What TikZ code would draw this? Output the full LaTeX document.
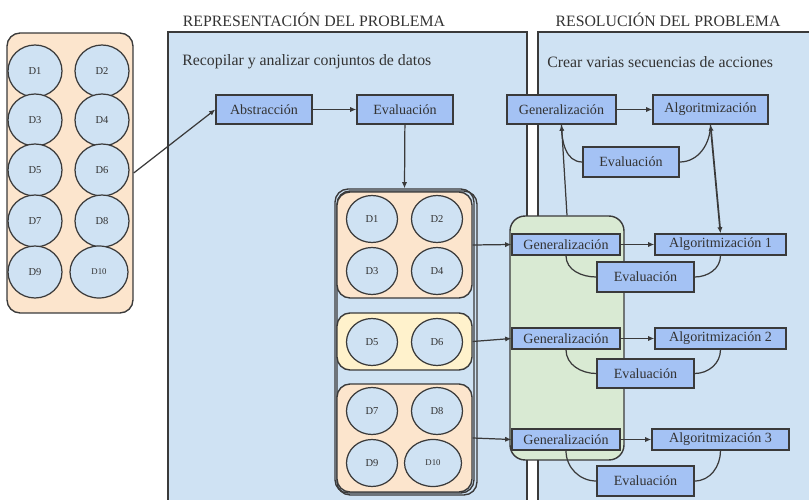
\documentclass[tikz,border=0pt]{standalone}
\usepackage{fontspec}
\setmainfont{Liberation Serif}
\usetikzlibrary{positioning, calc, arrows.meta, shapes.geometric}
\definecolor{xpanel}{HTML}{CFE2F3}
\definecolor{xbox}{HTML}{A4C2F4}
\definecolor{xpeach}{HTML}{FCE5CD}
\definecolor{xyellow}{HTML}{FFF2CC}
\definecolor{xgreen}{HTML}{D9EAD3}
\definecolor{xline}{HTML}{3A3A3A}
\definecolor{xtext}{HTML}{333333}
\tikzset{
	>={Latex[length=3.5pt, width=3pt]},
	panel/.style={draw=xline, fill=xpanel, line width=0.8pt},
	titulo/.style={text=xtext, font=\fontsize{9}{11}\selectfont, inner sep=0pt},
	paso/.style={draw=xline, fill=xbox, line width=0.8pt, text=xtext, font=\fontsize{8}{9}\selectfont, inner sep=0pt, minimum width=#1, minimum height=0.58cm},
	paso/.default=1.92cm,
	grupo/.style={draw=xline, line width=0.8pt, rounded corners=0.26cm, inner sep=0pt},
	dato/.style={ellipse, draw=xline, fill=xpanel, line width=0.7pt, inner sep=0pt, minimum width=1.08cm, minimum height=1.04cm, text=xtext, font=\fontsize{6}{7}\selectfont},
	datoc/.style={dato, minimum width=1.02cm, minimum height=0.94cm},
	flecha/.style={->, draw=xline, line width=0.7pt},
	curva/.style={draw=xline, line width=0.7pt},
}
\begin{document}
\begin{tikzpicture}[x=0.02cm, y=-0.02cm]
	\useasboundingbox (0,0) rectangle (809,500);
	\clip (0,0) rectangle (809,500);

	\draw[panel] (168,32) rectangle (527,530);
	\draw[panel] (538,32) rectangle (830,530);
	\node (t1) at (314,20) [titulo] {REPRESENTACIÓN DEL PROBLEMA};
	\node (t2) at (668,20) [titulo] {RESOLUCIÓN DEL PROBLEMA};
	\node (s1) at (182,62) [titulo, anchor=west] {Recopilar y analizar conjuntos de datos};
	\node (s2) at (547,62) [titulo, anchor=west] {Crear varias secuencias de acciones};

	\node (datos) at (70,173) [grupo, fill=xpeach, minimum width=2.52cm, minimum height=5.6cm] {};
	\node (d1) at (35,71) [dato] {D1};
	\node (d2) at (102,71) [dato] {D2};
	\node (d3) at (35,120) [dato] {D3};
	\node (d4) at (102,120) [dato] {D4};
	\node (d5) at (35,170) [dato] {D5};
	\node (d6) at (102,170) [dato] {D6};
	\node (d7) at (35,221) [dato] {D7};
	\node (d8) at (102,221) [dato] {D8};
	\node (d9) at (35,272) [dato] {D9};
	\node (d10) at (99,272) [dato, minimum width=1.16cm, font=\fontsize{5}{6}\selectfont] {D10};

	\node (abs) at (264,109.5) [paso] {Abstracción};
	\node (eva) at (405,109.5) [paso] {Evaluación};

	\node (marcob) at (407,343) [grupo, minimum width=2.8cm, minimum height=6.08cm] {};
	\node (marco) at (404.5,341) [grupo, minimum width=2.78cm, minimum height=6.08cm] {};
	\node (ga) at (404.5,245) [grupo, fill=xpeach, minimum width=2.7cm, minimum height=2.12cm] {};
	\node (gb) at (404.5,341.5) [grupo, fill=xyellow, minimum width=2.7cm, minimum height=1.14cm] {};
	\node (gc) at (404.5,438) [grupo, fill=xpeach, minimum width=2.7cm, minimum height=2.16cm] {};
	\node (c1) at (372,219) [datoc] {D1};
	\node (c2) at (437,219) [datoc] {D2};
	\node (c3) at (372,271) [datoc] {D3};
	\node (c4) at (437,271) [datoc] {D4};
	\node (c5) at (372,342) [datoc] {D5};
	\node (c6) at (437,342) [datoc] {D6};
	\node (c7) at (372,411) [datoc] {D7};
	\node (c8) at (437,411) [datoc] {D8};
	\node (c9) at (372,463) [datoc] {D9};
	\node (c10) at (433,463) [datoc, minimum width=1.14cm, font=\fontsize{5}{6}\selectfont] {D10};

	\node (verde) at (567,338) [grupo, fill=xgreen, rounded corners=0.3cm, minimum width=2.28cm, minimum height=4.88cm] {};

	\node (gen) at (561.5,109.5) [paso=2.18cm] {Generalización};
	\node (alg) at (710.5,109.5) [paso=2.3cm] {Algoritmización};
	\node (evr) at (631,162) [paso, minimum height=0.6cm] {Evaluación};

	\node (g1) at (566,244.5) [paso=2.16cm, minimum height=0.42cm] {Generalización};
	\node (a1) at (720.5,244.5) [paso=2.62cm, minimum height=0.42cm] {Algoritmización 1};
	\node (e1) at (645.5,277) [paso=1.94cm, minimum height=0.6cm] {Evaluación};
	\node (g2) at (566,338.5) [paso=2.16cm, minimum height=0.42cm] {Generalización};
	\node (a2) at (720.5,338.5) [paso=2.62cm, minimum height=0.42cm] {Algoritmización 2};
	\node (e2) at (645.5,373.5) [paso=1.94cm, minimum height=0.58cm] {Evaluación};
	\node (g3) at (566,439.5) [paso=2.16cm, minimum height=0.42cm] {Generalización};
	\node (a3) at (720.5,439.5) [paso=2.74cm, minimum height=0.42cm] {Algoritmización 3};
	\node (e3) at (645.5,481) [paso=1.94cm, minimum height=0.6cm] {Evaluación};

	\draw[flecha] (datos.east) -- (abs.west);
	\draw[flecha] (abs) -- (eva);
	\draw[flecha] (eva) -- (marco.north);
	\draw[flecha] (gen) -- (alg);
	\draw[flecha] (verde.north) -- (gen.south);
	\draw[flecha, <->, line width=1pt] (alg.south) -- (a1.north);
	\draw[curva] (gen.south) to[out=-90, in=180] (evr.west);
	\draw[curva] (evr.east) to[out=0, in=-90] (alg.south);

	\draw[flecha] (ga.east) -- (g1.west);
	\draw[flecha] (gb.east) -- (g2.west);
	\draw[flecha] (gc.east) -- (g3.west);
	\draw[flecha] (g1) -- (a1);
	\draw[flecha] (g2) -- (a2);
	\draw[flecha] (g3) -- (a3);
	\draw[curva] (g1.south) to[out=-90, in=180] (e1.west);
	\draw[curva] (e1.east) to[out=0, in=-90] (a1.south);
	\draw[curva] (g2.south) to[out=-90, in=180] (e2.west);
	\draw[curva] (e2.east) to[out=0, in=-90] (a2.south);
	\draw[curva] (g3.south) to[out=-90, in=180] (e3.west);
	\draw[curva] (e3.east) to[out=0, in=-90] (a3.south);
\end{tikzpicture}
\end{document}
